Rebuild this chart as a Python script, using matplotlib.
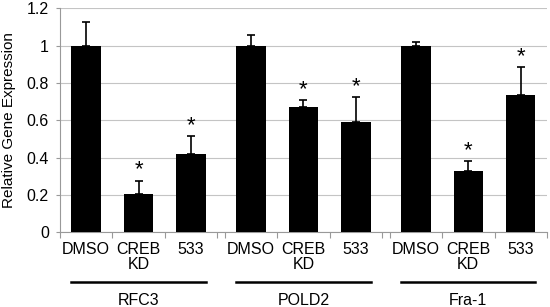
import numpy as np
import matplotlib.pyplot as plt
import matplotlib.transforms as mtransforms

plt.rcParams['font.family'] = ['Liberation Sans', 'DejaVu Sans']

# data
genes = ['RFC3', 'POLD2', 'Fra-1']
conditions = ['DMSO', 'CREB\nKD', '533']
means = [[1.0, 0.204, 0.42],
         [1.0, 0.673, 0.59],
         [1.0, 0.331, 0.737]]
errors = [[0.125, 0.074, 0.098],
          [0.058, 0.034, 0.133],
          [0.021, 0.05, 0.15]]
significant = [[False, True, True],
               [False, True, True],
               [False, True, True]]

group_step = 3.143
bar_w = 0.56

fig = plt.figure(figsize=(5.5, 3.07), dpi=100)
ax = fig.add_axes([0.109, 0.2427, 0.8855, 0.7303])
trans = mtransforms.blended_transform_factory(ax.transData, ax.transAxes)

centers = []
labels = []
for g, gene in enumerate(genes):
    x = g*group_step + np.arange(3) + 0.5
    ax.bar(x, means[g], width=bar_w, color='black', zorder=3)
    ax.errorbar(x, means[g], yerr=[np.zeros(3), errors[g]], fmt='none',
                ecolor='black', elinewidth=1.2, capsize=3, capthick=1.2, zorder=4)
    for i in range(3):
        if significant[g][i]:
            ax.annotate('*', (x[i], means[g][i]+errors[g][i]), xytext=(0, 0),
                        textcoords='offset points', ha='center', va='bottom',
                        fontsize=16)
    centers.extend(x)
    labels.extend(conditions)
    # group line and name below the axis
    ax.plot([x[0]-bar_w/2, x[-1]+bar_w/2], [-0.222, -0.222], color='black',
            lw=1.8, transform=trans, clip_on=False)
    ax.text(x[1], -0.305, gene, transform=trans, ha='center', va='center',
            fontsize=11.5)

ax.set_xticks(centers)
ax.set_xticklabels(labels, fontsize=11.5, linespacing=0.95)
ax.tick_params(axis='x', which='major', length=0, pad=7)
bounds = [g*group_step + k for g in range(3) for k in range(4)]
ax.set_xticks(bounds, minor=True)
ax.tick_params(axis='x', which='minor', length=4, color='#999999', width=0.8)

ax.set_xlim(0, 2*group_step + 3)
ax.set_ylim(0, 1.2)
ax.set_yticks([0, 0.2, 0.4, 0.6, 0.8, 1.0, 1.2])
ax.set_yticklabels(['0', '0.2', '0.4', '0.6', '0.8', '1', '1.2'], fontsize=11.5)
ax.tick_params(axis='y', length=3, color='#999999', width=0.8, pad=5)
ax.grid(axis='y', color='#c4c4c4', lw=0.8, zorder=0)
ax.set_axisbelow(True)
for s in ['top', 'right']:
    ax.spines[s].set_visible(False)
for s in ['left', 'bottom']:
    ax.spines[s].set_color('#999999')
    ax.spines[s].set_linewidth(0.8)

ax.set_ylabel('Relative Gene Expression', fontsize=11)
ax.yaxis.set_label_coords(-0.09, 0.5)

fig.savefig('out.png', dpi=100)
